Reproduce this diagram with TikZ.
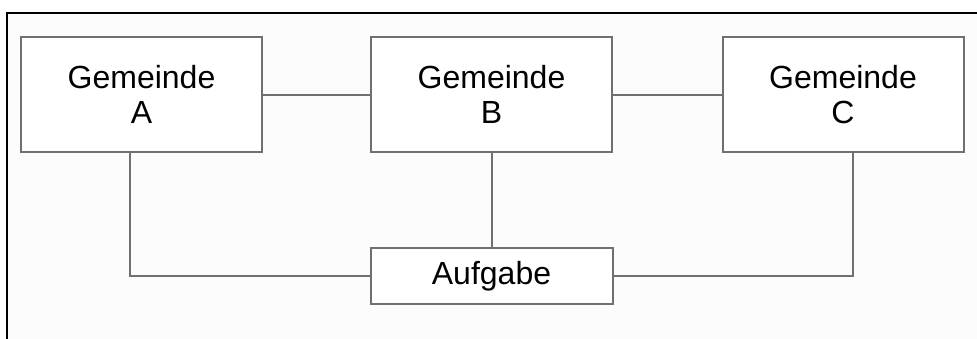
\documentclass[tikz,border=0pt]{standalone}
\usepackage{fontspec}
\setmainfont{Liberation Sans}
\usetikzlibrary{positioning}

\definecolor{linegray}{RGB}{112,112,112}
\definecolor{paper}{RGB}{252,252,252}

\tikzset{
  gem/.style={shape=rectangle,draw=linegray,line width=2pt,fill=white,
    minimum width=241pt,minimum height=115pt,align=center,
    font=\fontsize{32}{35}\selectfont},
  task/.style={gem,minimum width=242pt,minimum height=56pt}
}

\begin{document}
\begin{tikzpicture}[x=1pt,y=-1pt]

   \clip (0,0) rectangle (977,338);
   % frame, runs out past the right and bottom edge
   \draw[black,line width=2pt,fill=paper] (7,13) rectangle (990,350);

   \node[gem] (A) at (141.5,94.5) {Gemeinde\\A};
   \node[gem] (B) at (491.5,94.5) {Gemeinde\\B};
   \node[gem] (C) at (843,94.5) {Gemeinde\\C};
   \node[task] (auf) at (491.5,276) {Aufgabe};

    \path[draw=linegray,line width=2pt] (A) -- (B);
    \path[draw=linegray,line width=2pt] (B) -- (C);
    \path[draw=linegray,line width=2pt] (B) -- (auf);
    \path[draw=linegray,line width=2pt] ([xshift=-11.5pt]A.south) |- (auf.west);
    \path[draw=linegray,line width=2pt] ([xshift=10pt]C.south) |- (auf.east);

\end{tikzpicture}
\end{document}
